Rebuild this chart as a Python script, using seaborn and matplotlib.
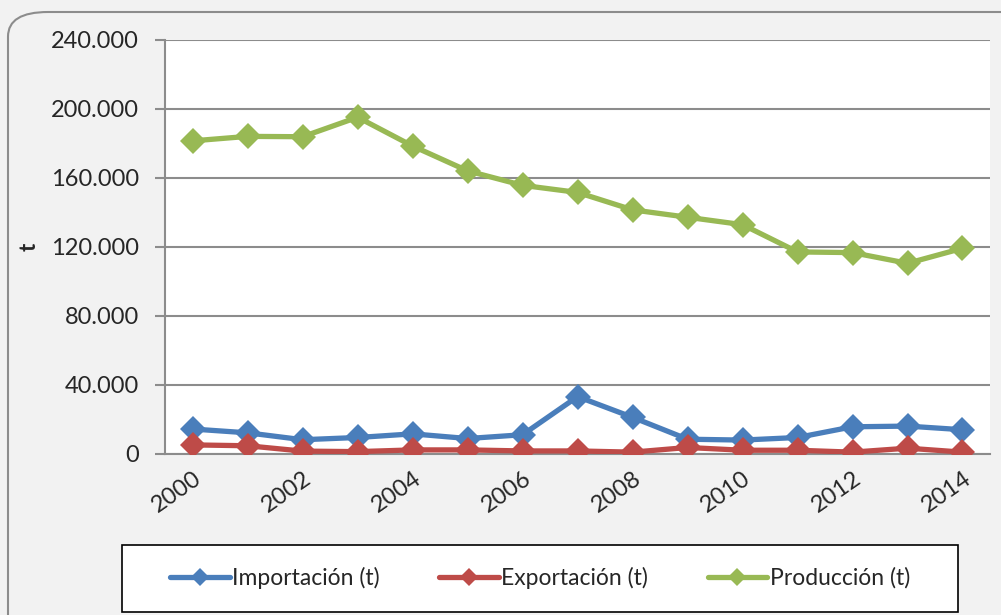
import pandas as pd
import seaborn as sns
import numpy as np
import matplotlib.pyplot as plt
from matplotlib.ticker import FuncFormatter, FixedLocator
from matplotlib.patches import FancyBboxPatch, Rectangle

# Data (t)
years = list(range(2000, 2015))
importacion = [14400, 12200, 8200, 9500, 11600, 8900, 11100, 33200, 21200, 8500, 8000, 9500, 15700, 16100, 14000]
exportacion = [5200, 4700, 1600, 1300, 2300, 2300, 1700, 1700, 1000, 3700, 2100, 2100, 1000, 3300, 1000]
produccion = [181500, 184100, 183900, 195200, 178500, 164100, 155700, 151600, 141500, 137200, 132900, 117100, 116700, 110500, 119200]
series_names = ['Importación (t)', 'Exportación (t)', 'Producción (t)']
colors = ['#4A7EBB', '#BE4B48', '#98B954']
y_ticks = [0, 40000, 80000, 120000, 160000, 200000, 240000]

df = pd.DataFrame({'year': years,
                   series_names[0]: importacion,
                   series_names[1]: exportacion,
                   series_names[2]: produccion})
df_long = df.melt(id_vars='year', var_name='serie', value_name='t')

sns.set_style('white')
plt.rcParams['font.family'] = ['Lato', 'DejaVu Sans']

fig = plt.figure(figsize=(10.01, 6.15), dpi=100, facecolor='#F2F2F2')
ax = fig.add_axes([0.165, 0.262, 0.824, 0.673])
ax.set_facecolor('white')

# Rounded outer frame
frame = FancyBboxPatch((8 / 1001, -0.05), 1.1, 1 - 12 / 615 + 0.05,
                       boxstyle='round,pad=0,rounding_size=0.04',
                       transform=fig.transFigure, facecolor='none',
                       edgecolor='#8C8C8C', linewidth=1.5, zorder=0)
fig.patches.append(frame)

sns.lineplot(data=df_long, x='year', y='t', hue='serie', style='serie',
             hue_order=series_names, style_order=series_names,
             palette=dict(zip(series_names, colors)),
             markers={n: 'D' for n in series_names}, dashes=False,
             linewidth=3.8, markersize=13, markeredgewidth=0, ax=ax, zorder=3)

ax.set_xlim(1999.5, 2014.5)
ax.set_ylim(0, 240000)
ax.yaxis.set_major_locator(FixedLocator(y_ticks))
ax.yaxis.set_major_formatter(FuncFormatter(lambda v, p: f'{v:,.0f}'.replace(',', '.')))
ax.grid(axis='y', color='#8C8C8C', linewidth=1.5)
ax.set_axisbelow(True)

ax.set_xticks(years[::2])
ax.set_xticklabels([str(y) for y in years[::2]], rotation=35, ha='right',
                   va='top', rotation_mode='anchor')
ax.set_xticks(np.arange(1999.5, 2015, 1), minor=True)
ax.tick_params(axis='x', which='major', length=0, labelsize=17, pad=10)
ax.tick_params(axis='x', which='minor', length=6, color='#8C8C8C', width=1.5, direction='out')
ax.tick_params(axis='y', length=7, color='#8C8C8C', width=1.5, labelsize=17, pad=12, left=True)

for side in ['top', 'right']:
    ax.spines[side].set_visible(False)
for side in ['left', 'bottom']:
    ax.spines[side].set_color('#8C8C8C')
    ax.spines[side].set_linewidth(1.5)

ax.set_xlabel('')
ax.set_ylabel('t', fontsize=16, fontweight='bold', labelpad=8)

# Legend box drawn separately, entries centred inside it
box = Rectangle((122 / 1001, 3 / 615), 836 / 1001, 67 / 615, transform=fig.transFigure,
                facecolor='white', edgecolor='black', linewidth=1.2, zorder=1)
fig.patches.append(box)

handles, labels = ax.get_legend_handles_labels()
ax.legend_.remove()
leg = fig.legend(handles, labels, loc='center', ncol=3,
                 bbox_to_anchor=(540 / 1001, 1 - 578 / 615),
                 frameon=False, fontsize=16.5, handlelength=2.6,
                 handletextpad=0.1, columnspacing=2.6)
for h in leg.legend_handles:
    h.set_markersize(9)

fig.savefig('out.png', dpi=100, facecolor=fig.get_facecolor())
